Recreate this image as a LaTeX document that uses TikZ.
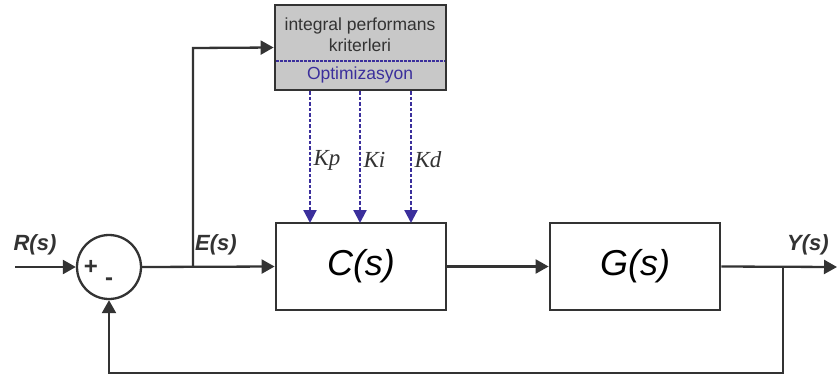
\documentclass[tikz,border=0pt]{standalone}
\usepackage{fontspec}
\setmainfont{Liberation Sans}
\newfontfamily\serifit{Liberation Serif}
\usetikzlibrary{arrows.meta}
\definecolor{linegray}{HTML}{333333}
\definecolor{optblue}{HTML}{3B2F9C}
\definecolor{boxgray}{HTML}{C8C8C8}
\begin{document}
\begin{tikzpicture}[x=1pt,y=-1pt,
  wire/.style={draw=linegray,line width=2.3pt},
  arr/.style={wire,-{Triangle[length=13pt,width=14pt]}},
  darr/.style={draw=optblue,line width=2.2pt,dash pattern=on 3.5pt off 2pt,-{Triangle[length=13pt,width=13pt]}},
  block/.style={draw=linegray,line width=2.8pt,fill=white,minimum width=170pt,minimum height=87pt,font=\fontsize{36}{40}\selectfont\itshape,inner sep=0pt},
  sig/.style={font=\fontsize{22}{24}\selectfont\bfseries\itshape,text=linegray},
  gain/.style={font=\fontsize{23}{25}\selectfont\serifit\itshape,text=linegray,anchor=west},
  sign/.style={font=\fontsize{24}{24}\selectfont\bfseries,text=linegray}]
\useasboundingbox (0,0) rectangle (837,378);

% summing junction
\node[draw=linegray,line width=2.3pt,circle,minimum size=64pt,inner sep=0pt] (sum) at (109,267) {};
\node[sign] (plus) at (91,267) {+};
\node[sign] (minus) at (109,282) {-};

% blocks
\node[block] (C) at (361,266.5) {C(s)};
\node[block] (G) at (635,266.5) {G(s)};

% optimisation box
\node[draw=linegray,line width=2.8pt,fill=boxgray,minimum width=171pt,minimum height=85pt,inner sep=0pt] (opt) at (360.5,47.5) {};
\coordinate (dl) at (276,61);
\coordinate (dr) at (445,61);
\draw[optblue,line width=1.6pt,dash pattern=on 2.5pt off 1.5pt] (dl) -- (dr);
\node[font=\fontsize{17.5}{21}\selectfont,text=linegray,align=center] (crit) at (360,35) {integral performans\\kriterleri};
\node[font=\fontsize{17.5}{21}\selectfont,text=optblue] (optt) at (360,75) {Optimizasyon};

% gain arrows
\coordinate (kpt) at (310,91);
\coordinate (kit) at (360,91);
\coordinate (kdt) at (411,91);
\coordinate (kpb) at (310,223);
\coordinate (kib) at (360,223);
\coordinate (kdb) at (411,223);
\draw[darr] (kpt) -- (kpb);
\draw[darr] (kit) -- (kib);
\draw[darr] (kdt) -- (kdb);
\node[gain] (kp) at (310,160) {Kp};
\node[gain] (ki) at (360,160) {Ki};
\node[gain] (kd) at (411,160) {Kd};

% signal path
\coordinate (rin) at (15,267);
\coordinate (ebr) at (193,267);
\coordinate (ytop) at (193,48);
\coordinate (ybr) at (783,267);
\coordinate (yout) at (837,267);
\coordinate (fb1) at (783,373);
\coordinate (fb2) at (109,373);
\draw[arr] (rin) -- (sum.west);
\draw[arr] (sum.east) -- (C.west);
\draw[arr] (ebr) -- (ytop) -- (opt.west);
\draw[arr] (C.east) -- (G.west);
\draw[arr] (G.east) -- (yout);
\draw[arr] (ybr) -- (fb1) -- (fb2) -- (sum.south);

% signal labels
\node[sig] (R) at (35,245) {R(s)};
\node[sig] (E) at (216,245) {E(s)};
\node[sig] (Y) at (808,245) {Y(s)};
\end{tikzpicture}
\end{document}
